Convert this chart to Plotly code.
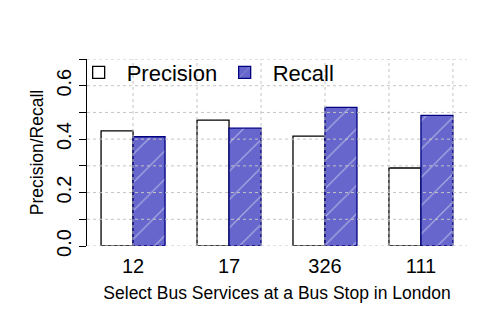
import numpy as np
import plotly.graph_objects as go

categories = ["12", "17", "326", "111"]
precision = [0.431, 0.471, 0.411, 0.292]
recall = [0.409, 0.441, 0.519, 0.489]
y_ticks = [0.0, 0.2, 0.4, 0.6]

FONT = "Liberation Sans, Arial, sans-serif"
RECALL_FILL = "#6666cc"

idx = np.arange(len(categories))
x_prec = 3 * idx + 1.5
x_rec = 3 * idx + 2.5
x_center = 3 * idx + 2

fig = go.Figure()
fig.add_trace(go.Bar(
    x=x_prec, y=precision, width=1, name="Precision",
    marker=dict(color="white", line=dict(color="black", width=1.3)),
))
fig.add_trace(go.Bar(
    x=x_rec, y=recall, width=1, name="Recall",
    marker=dict(color=RECALL_FILL, line=dict(color="#000080", width=1.3),
                pattern=dict(shape="/", fgcolor="white", bgcolor=RECALL_FILL,
                             size=20, solidity=0.06)),
))

# grid drawn above bars (as in the reference)
grid_style = dict(color="#c4c4c4", width=1, dash="dot")
for yv in np.arange(0, 0.71, 0.1):
    fig.add_shape(type="line", xref="paper", x0=0, x1=1, yref="y", y0=yv, y1=yv,
                  line=grid_style, layer="above")
for xv in np.arange(2, 12.1, 2):
    fig.add_shape(type="line", xref="x", x0=xv, x1=xv, yref="paper", y0=0, y1=1,
                  line=grid_style, layer="above")

fig.update_layout(
    width=480, height=320,
    margin=dict(l=87, r=13, t=59, b=74),
    paper_bgcolor="white", plot_bgcolor="white",
    font=dict(family=FONT, color="black"),
    showlegend=True,
    legend=dict(orientation="h", x=-0.043, y=1.04, xanchor="left", yanchor="top",
                font=dict(size=22, family=FONT), bgcolor="rgba(0,0,0,0)",
                entrywidth=85, itemwidth=46),
    barmode="overlay",
    xaxis=dict(range=[0.56, 12.44], tickmode="array", tickvals=x_center,
               ticktext=categories, showgrid=False, zeroline=False, showline=False,
               ticks="", tickfont=dict(size=20), ticklabelstandoff=6,
               title=dict(text="Select Bus Services at a Bus Stop in London",
                          font=dict(size=17.5), standoff=10)),
    yaxis=dict(range=[0, 0.7], tickmode="array", tickvals=y_ticks,
               ticktext=[f"{v:.1f}" for v in y_ticks], tickangle=-90,
               showgrid=False, zeroline=False, showline=True, linecolor="black",
               linewidth=1, ticks="outside", ticklen=7, tickcolor="black",
               minor=dict(dtick=0.1, ticks="outside", ticklen=7, tickcolor="black",
                          showgrid=False),
               tickfont=dict(size=20),
               title=dict(text="Precision/Recall", font=dict(size=17.5), standoff=4)),
)

fig.write_html("out.html")
